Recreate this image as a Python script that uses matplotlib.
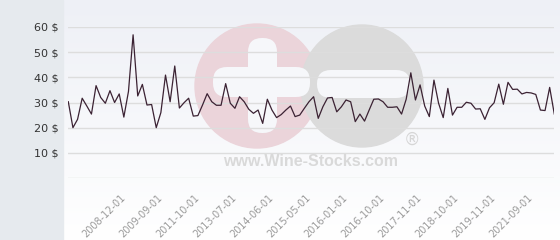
import numpy as np
import matplotlib.pyplot as plt
from matplotlib.patches import Circle, FancyBboxPatch, Rectangle

# price series (one value per sale, irregular dates)
prices = [30.3, 20.0, 23.3, 31.7, 28.6, 25.4, 36.7, 32.0, 29.7, 34.7,
          30.0, 33.4, 24.2, 34.4, 56.9, 32.6, 37.2, 29.0, 29.2, 20.0,
          26.0, 40.9, 30.3, 44.5, 27.8, 29.9, 31.7, 24.6, 24.8, 29.0,
          33.5, 30.3, 28.9, 28.9, 37.5, 29.7, 27.7, 32.3, 30.3, 27.3,
          25.7, 27.0, 21.7, 31.3, 27.0, 24.0, 25.2, 27.0, 28.6, 24.4,
          25.0, 27.7, 30.3, 32.3, 23.7, 28.3, 31.8, 32.0, 26.3, 28.3,
          31.0, 30.3, 22.4, 25.4, 22.6, 27.0, 31.3, 31.4, 30.3, 28.1,
          28.1, 28.3, 25.4, 31.3, 41.8, 31.0, 37.0, 28.6, 24.4, 38.9,
          29.7, 24.0, 35.6, 25.0, 28.1, 28.1, 30.1, 29.7, 27.4, 27.5,
          23.3, 27.9, 29.9, 37.3, 29.3, 38.0, 35.2, 35.3, 33.4, 34.0,
          33.8, 33.2, 27.0, 26.8, 36.0, 25.4]

# shown date labels and the sale index they sit on
label_pos = [12, 20, 28, 36, 44, 52, 60, 68, 76, 84, 92, 100]
label_txt = ["2008-12-01", "2009-09-01", "2011-10-01", "2013-07-01",
             "2014-06-01", "2015-05-01", "2016-01-01", "2016-10-01",
             "2017-11-01", "2018-10-01", "2019-11-01", "2021-09-01"]

y_ticks = [0, 10, 20, 30, 40, 50, 60]
y_labels = ["", "10 $", "20 $", "30 $", "40 $", "50 $", "60 $"]

W, H = 560, 240
fig = plt.figure(figsize=(W / 100, H / 100), dpi=100)

# background layer in pixel coords
bg = fig.add_axes([0, 0, 1, 1])
bg.set_xlim(0, W)
bg.set_ylim(H, 0)
bg.axis("off")
grad = np.linspace(0, 1, 256).reshape(-1, 1)
top = np.array([238, 240, 246]) / 255
bot = np.array([255, 255, 255]) / 255
img = top + (bot - top) * grad[..., None]
bg.imshow(np.repeat(img, 2, axis=1), extent=(63, W, H, 0), aspect="auto", zorder=0)
bg.add_patch(Rectangle((0, 0), 63, H, color="#e6eaee", zorder=1))

# watermark
bg.add_patch(Circle((257, 86), 62, color="#ebd4da", zorder=2))
bg.add_patch(Circle((362, 86), 61, color="#dbdbdb", zorder=3))
for (x0, y0, w, h) in [(248, 38, 29, 95), (213, 67, 97, 30), (317, 70, 93, 28)]:
    bg.add_patch(FancyBboxPatch((x0 + 14, y0 + 14), w - 28, h - 28,
                                boxstyle="round,pad=14", color="#f6f7fa",
                                lw=0, zorder=4))
bg.text(311, 161, "www.Wine-Stocks.com", ha="center", va="center",
        fontsize=11.5, fontweight="bold", family="Liberation Sans",
        color="#d9d9d9", zorder=4)
bg.text(412, 140, "\u00ae", ha="center", va="center",
        fontsize=12, color="#d6d6d6", zorder=4)

# main chart
ax = fig.add_axes([68.3 / W, 1 - 178 / H, 486 / W, 151 / H])
ax.patch.set_alpha(0)
x = np.arange(len(prices))
ax.plot(x, prices, color="#3b2233", lw=0.9, zorder=3)
ax.set_xlim(0, len(prices) - 1)
ax.set_ylim(0, 60)
ax.set_yticks(y_ticks)
ax.set_yticklabels(y_labels)
ax.grid(axis="y", color="#dddddd", lw=1)
ax.set_xticks(label_pos)
ax.set_xticklabels(label_txt, rotation=45, ha="right", va="center",
                   rotation_mode="anchor", fontsize=7, color="#9a9a9a")
ax.tick_params(axis="both", length=0)
ax.tick_params(axis="y", labelsize=8, labelcolor="#333333", pad=7)
ax.tick_params(axis="x", pad=13)
for s in ax.spines.values():
    s.set_visible(False)

fig.savefig("out.png", dpi=100)
